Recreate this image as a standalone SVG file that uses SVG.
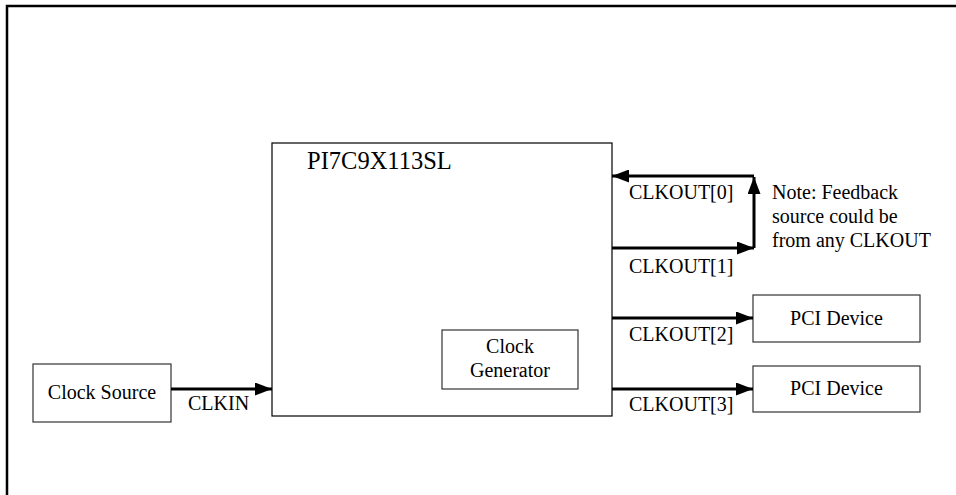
<svg xmlns="http://www.w3.org/2000/svg" width="956" height="495" viewBox="0 0 956 495">
<style>
.box{fill:#fff;stroke:#333;stroke-width:1.2}
.main{fill:#fff;stroke:#000;stroke-width:1.2}
.t{font-family:"Liberation Serif","Times New Roman",serif;font-size:20px;fill:#000}
.c{text-anchor:middle}
.w{fill:none;stroke:#000;stroke-width:3}
</style>
<defs>
<marker id="ah" viewBox="0 0 17 13" refX="17" refY="6.5" markerWidth="17" markerHeight="13" markerUnits="userSpaceOnUse" orient="auto">
<path d="M0,0 L17,6.5 L0,13 Z" fill="#000"/>
</marker>
</defs>
<rect width="956" height="495" fill="#fff"/>
<rect x="7" y="6" width="1000" height="600" fill="none" stroke="#000" stroke-width="2.5"/>
<g id="bridge">
<rect class="main" x="272" y="143" width="340" height="273"/>
<text class="t" x="307" y="169" style="font-size:24.5px">PI7C9X113SL</text>
</g>
<g id="clockgen">
<rect class="box" x="442" y="330" width="136" height="59"/>
<text class="t c" x="510" y="353">Clock</text>
<text class="t c" x="510" y="377">Generator</text>
</g>
<g id="clocksource">
<rect class="box" x="33" y="364" width="138" height="58"/>
<text class="t c" x="102" y="399">Clock Source</text>
</g>
<g id="pci1">
<rect class="box" x="753" y="295" width="167" height="47"/>
<text class="t c" x="836.5" y="325">PCI Device</text>
</g>
<g id="pci2">
<rect class="box" x="753" y="366" width="167" height="46"/>
<text class="t c" x="836.5" y="395">PCI Device</text>
</g>
<g id="note">
<text class="t" x="772" y="199">Note: Feedback</text>
<text class="t" x="772" y="223">source could be</text>
<text class="t" x="772" y="247">from any CLKOUT</text>
</g>
<g id="connectors">
<path class="w" d="M171,389 H272" marker-end="url(#ah)"/>
<text class="t" x="188" y="410">CLKIN</text>
<path class="w" d="M754,176 H612" marker-end="url(#ah)"/>
<text class="t" x="629" y="199">CLKOUT[0]</text>
<path class="w" d="M612,248 H754" marker-end="url(#ah)"/>
<path class="w" d="M754,248 V177" marker-end="url(#ah)"/>
<text class="t" x="629" y="273">CLKOUT[1]</text>
<path class="w" d="M612,318 H753" marker-end="url(#ah)"/>
<text class="t" x="629" y="341">CLKOUT[2]</text>
<path class="w" d="M612,389 H753" marker-end="url(#ah)"/>
<text class="t" x="629" y="411">CLKOUT[3]</text>
</g>
</svg>
